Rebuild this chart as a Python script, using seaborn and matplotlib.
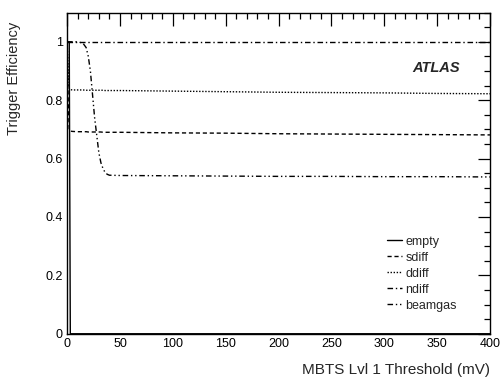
import matplotlib
matplotlib.use("Agg")
import matplotlib.pyplot as plt
import seaborn as sns
import pandas as pd
from matplotlib.ticker import MultipleLocator, FixedLocator, FixedFormatter

# Threshold (mV) sample points
thresholds = [0, 1, 2, 3, 5, 10, 15, 18, 20, 22, 24, 26, 28, 30, 32, 34, 36, 38, 40,
              50, 100, 150, 200, 250, 300, 350, 400]
# Trigger efficiencies
empty = [1.0, 1.0, 1.0, 0.0, 0.0, 0.0, 0.0, 0.0, 0.0, 0.0, 0.0, 0.0, 0.0, 0.0, 0.0,
         0.0, 0.0, 0.0, 0.0, 0.0, 0.0, 0.0, 0.0, 0.0, 0.0, 0.0, 0.0]
sdiff = [1.0, 0.80, 0.70, 0.694, 0.693, 0.692, 0.692, 0.692, 0.691, 0.691, 0.691, 0.691,
         0.691, 0.691, 0.691, 0.690, 0.690, 0.690, 0.690, 0.690, 0.688, 0.687, 0.685,
         0.684, 0.683, 0.682, 0.681]
ddiff = [1.0, 0.90, 0.84, 0.836, 0.835, 0.835, 0.835, 0.834, 0.834, 0.834, 0.834, 0.834,
         0.834, 0.834, 0.834, 0.834, 0.833, 0.833, 0.833, 0.833, 0.831, 0.829, 0.827,
         0.826, 0.825, 0.823, 0.822]
ndiff = [1.0, 1.0, 1.0, 1.0, 1.0, 1.0, 1.0, 1.0, 1.0, 1.0, 1.0, 1.0, 1.0, 1.0, 1.0,
         1.0, 1.0, 1.0, 1.0, 1.0, 1.0, 1.0, 1.0, 1.0, 1.0, 1.0, 1.0]
beamgas = [1.0, 1.0, 1.0, 1.0, 1.0, 1.0, 0.995, 0.98, 0.95, 0.90, 0.82, 0.74, 0.68, 0.62,
           0.585, 0.565, 0.552, 0.546, 0.543, 0.542, 0.541, 0.540, 0.539, 0.539, 0.538,
           0.538, 0.537]

samples = ["empty", "sdiff", "ddiff", "ndiff", "beamgas"]
series = [empty, sdiff, ddiff, ndiff, beamgas]

rows = []
for name, vals in zip(samples, series):
    for t, v in zip(thresholds, vals):
        rows.append({"threshold": t, "efficiency": v, "sample": name})
df = pd.DataFrame(rows)

sns.set_theme(style="white")
plt.rcParams["font.family"] = ["Liberation Sans", "DejaVu Sans"]
plt.rcParams["font.size"] = 9

dash_map = {
    "empty": "",
    "sdiff": (3, 2),
    "ddiff": (1, 1.2),
    "ndiff": (4, 2, 1, 2),
    "beamgas": (4, 2, 1, 2, 1, 2),
}

fig = plt.figure(figsize=(5.01, 3.81), dpi=100)
ax = fig.add_axes([0.134, 0.124, 0.844, 0.843])

sns.lineplot(data=df, x="threshold", y="efficiency", style="sample",
             hue="sample", palette={s: "black" for s in samples},
             dashes=dash_map, linewidth=1.0, estimator=None, sort=False,
             ax=ax, legend=True)

ax.set_xlim(0, 400)
ax.set_ylim(0, 1.1)

ax.xaxis.set_major_locator(MultipleLocator(50))
ax.xaxis.set_minor_locator(MultipleLocator(10))
ax.yaxis.set_major_locator(FixedLocator([0, 0.2, 0.4, 0.6, 0.8, 1.0]))
ax.yaxis.set_major_formatter(FixedFormatter(["0", "0.2", "0.4", "0.6", "0.8", "1"]))
ax.yaxis.set_minor_locator(MultipleLocator(0.05))

ax.tick_params(which="both", direction="in", top=True, right=True,
               colors="black", labelsize=9, width=0.9)
ax.tick_params(which="major", length=9, pad=3)
ax.tick_params(which="minor", length=4.5)

for sp in ax.spines.values():
    sp.set_visible(True)
    sp.set_color("black")
    sp.set_linewidth(1.0)

ax.set_xlabel("MBTS Lvl 1 Threshold (mV)", fontsize=11, ha="right")
ax.xaxis.set_label_coords(1.0, -0.092)
ax.set_ylabel("Trigger Efficiency", fontsize=10.5, ha="right")
ax.yaxis.set_label_coords(-0.108, 0.97)

ax.text(0.93, 0.828, "ATLAS", transform=ax.transAxes, fontsize=10.5,
        fontweight="bold", fontstyle="italic", ha="right", va="center")

handles, labels = ax.get_legend_handles_labels()
ax.legend(handles, labels, loc="upper left", bbox_to_anchor=(0.757, 0.305),
          frameon=False, fontsize=9, handlelength=1.2, handletextpad=0.25,
          labelspacing=0.32, borderpad=0, borderaxespad=0)

fig.savefig("out.png", dpi=100)
